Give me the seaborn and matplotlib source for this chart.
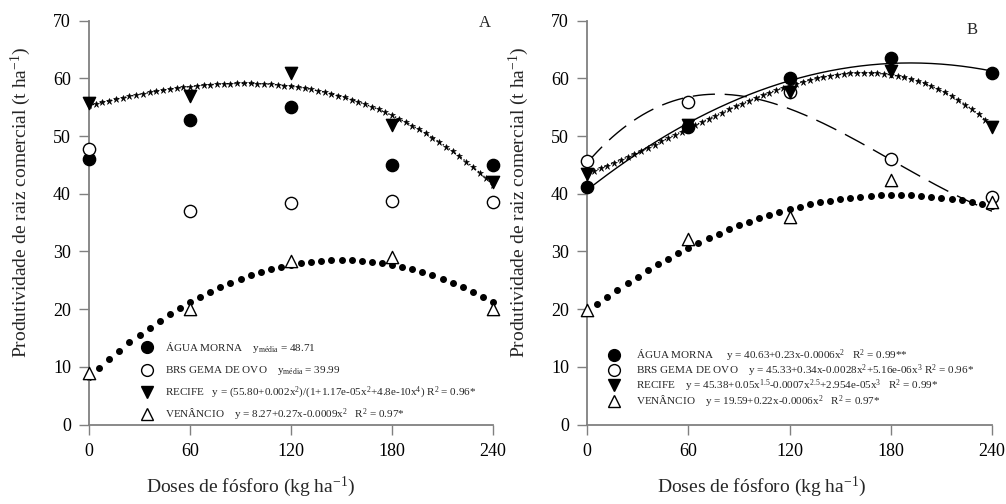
import numpy as np
import pandas as pd
import matplotlib
matplotlib.use("Agg")
import matplotlib.pyplot as plt
import seaborn as sns
from matplotlib.lines import Line2D
from matplotlib.legend import Legend

# Doses and observed yields (t/ha)
doses = [0, 60, 120, 180, 240]

# Panel A
agua_a = [46.0, 52.8, 55.0, 45.0, 45.0]
gema_a = [47.8, 37.0, 38.4, 38.7, 38.5]
recife_a = [55.7, 57.0, 61.0, 52.0, 42.0]
venancio_a = [9.0, 20.0, 28.3, 29.0, 20.0]

# Panel B
agua_b = [41.2, 51.6, 60.0, 63.6, 61.0]
gema_b = [45.7, 55.9, 57.6, 46.0, 39.5]
recife_b = [43.4, 52.0, 57.7, 61.3, 51.6]
venancio_b = [19.8, 32.1, 35.9, 42.4, 38.5]

# Regression coefficients as printed (ascending powers of x)
venancio_a_coef = [8.27, 0.27, -0.0009]
agua_b_coef = [40.63, 0.23, -0.0006]
gema_b_coef = [45.33, 0.34, -0.0028, 5.16e-06]
venancio_b_coef = [19.59, 0.22, -0.0006]

labels_a = [
    r"ÁGUA MORNA    y$_{\rm média}$ = 48.71",
    r"BRS GEMA DE OVO    y$_{\rm média}$ = 39.99",
    r"RECIFE   y = (55.80+0.002x$^{2}$)/(1+1.17e-05x$^{2}$+4.8e-10x$^{4}$) R$^{2}$ = 0.96*",
    r"VENÂNCIO    y = 8.27+0.27x-0.0009x$^{2}$   R$^{2}$ = 0.97*",
]
labels_b = [
    r"ÁGUA MORNA     y = 40.63+0.23x-0.0006x$^{2}$   R$^{2}$ = 0.99**",
    r"BRS GEMA DE OVO    y = 45.33+0.34x-0.0028x$^{2}$+5.16e-06x$^{3}$ R$^{2}$ = 0.96*",
    r"RECIFE    y = 45.38+0.05x$^{1.5}$-0.0007x$^{2.5}$+2.954e-05x$^{3}$   R$^{2}$ = 0.99*",
    r"VENÂNCIO    y = 19.59+0.22x-0.0006x$^{2}$   R$^{2}$ = 0.97*",
]

sns.set_style("ticks")
plt.rcParams["font.family"] = ["Liberation Serif", "DejaVu Serif"]
plt.rcParams["mathtext.fontset"] = "custom"
plt.rcParams["mathtext.rm"] = "Liberation Serif"
plt.rcParams["mathtext.it"] = "Liberation Serif:italic"
plt.rcParams["mathtext.bf"] = "Liberation Serif:bold"

GRAY = "#808080"
xs = np.linspace(0, 240, 241)


def poly(coef, x):
    return sum(c * x ** i for i, c in enumerate(coef))


def star_line(ax, y):
    ax.plot(xs, y, color="k", lw=1.0, ls=":", zorder=2)
    ax.plot(xs[::4], y[::4], ls="none", marker="*", ms=4.6, color="k",
            mew=0.4, zorder=2)


def dot_line(ax, y):
    ax.plot(xs[::6], y[::6], ls="none", marker="o", ms=4.0, color="k",
            mec="k", zorder=2, clip_on=False)


def points(ax, vals, marker, filled):
    df = pd.DataFrame({"dose": doses, "y": vals})
    sns.scatterplot(data=df, x="dose", y="y", ax=ax, marker=marker, s=78,
                    color="k" if filled else "white", edgecolor="k",
                    linewidth=1.0, zorder=4, clip_on=False, legend=False)


def style_axis(ax, letter, lx, ly, lab_x):
    ax.set_xlim(0, 240)
    ax.set_ylim(0, 70)
    ax.set_xticks(doses)
    ax.set_yticks(range(0, 71, 10))
    sns.despine(ax=ax)
    for s in ("left", "bottom"):
        ax.spines[s].set_color(GRAY)
        ax.spines[s].set_linewidth(1.3)
    ax.tick_params(colors=GRAY, labelcolor="k", labelsize=13, length=7,
                   width=1.0, pad=6)
    ax.set_xlabel(r"Doses de fósforo (kg ha$^{-1}$)", fontsize=14)
    ax.set_ylabel(r"Produtividade de raiz comercial (t ha$^{-1}$)", fontsize=14)
    ax.xaxis.set_label_coords(lab_x, -0.125)
    ax.yaxis.set_label_coords(-0.138, 0.55)
    ax.text(lx, ly, letter, transform=ax.transAxes, fontsize=12,
            ha="center", va="center")


HANDLES = [
    Line2D([], [], ls="none", marker="o", ms=8.5, mfc="k", mec="k"),
    Line2D([], [], ls="none", marker="o", ms=8.5, mfc="white", mec="k"),
    Line2D([], [], ls="none", marker="v", ms=8.5, mfc="k", mec="k"),
    Line2D([], [], ls="none", marker="^", ms=8.5, mfc="white", mec="k"),
]


def legend_rows(ax, labels, x0, rows, pad):
    # one small legend per row so that the rows are evenly spaced
    for h, lab, y in zip(HANDLES, labels, rows):
        leg = Legend(ax, [h], [lab], loc="center left", bbox_to_anchor=(x0, y),
                     frameon=False, fontsize=8, handlelength=1.0,
                     handletextpad=pad, borderaxespad=0, borderpad=0)
        ax.add_artist(leg)


fig = plt.figure(figsize=(10.06, 5.04), dpi=100)
ax_a = fig.add_axes([0.0885, 0.1575, 0.4016, 0.8015])
ax_b = fig.add_axes([0.5835, 0.1575, 0.4026, 0.8015])

# Panel A
star_line(ax_a, np.polyval(np.polyfit(doses, recife_a, 3), xs))
dot_line(ax_a, poly(venancio_a_coef, xs))
points(ax_a, agua_a, "o", True)
points(ax_a, gema_a, "o", False)
points(ax_a, recife_a, "v", True)
points(ax_a, venancio_a, "^", False)
style_axis(ax_a, "A", 0.98, 0.995, 0.40)
legend_rows(ax_a, labels_a, 0.130, [0.190, 0.133, 0.078, 0.026], 1.1)

# Panel B
ax_b.plot(xs, poly(agua_b_coef, xs), color="k", lw=1.0, zorder=2)
ax_b.plot(xs, poly(gema_b_coef, xs), color="k", lw=1.0, dashes=(16, 7), zorder=2)
star_line(ax_b, np.polyval(np.polyfit(doses, recife_b, 3), xs))
dot_line(ax_b, poly(venancio_b_coef, xs))
points(ax_b, agua_b, "o", True)
points(ax_b, gema_b, "o", False)
points(ax_b, recife_b, "v", True)
points(ax_b, venancio_b, "^", False)
style_axis(ax_b, "B", 0.95, 0.977, 0.43)
legend_rows(ax_b, labels_b, 0.053, [0.172, 0.134, 0.096, 0.058], 1.5)

fig.savefig("out.png", dpi=100)
